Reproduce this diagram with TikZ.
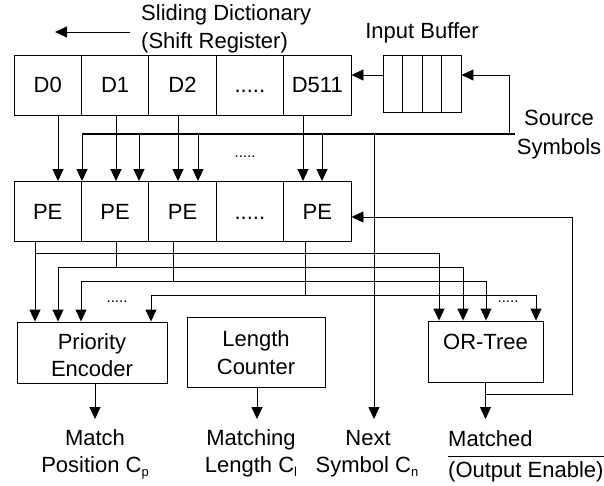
\documentclass[tikz,border=0pt]{standalone}
\usepackage{fontspec}
\setmainfont{Liberation Sans}
\usetikzlibrary{arrows.meta,calc}
\newcommand\subx[1]{\raisebox{-4.5pt}{\fontsize{13}{13}\selectfont #1}}
\begin{document}
\begin{tikzpicture}[x=1pt,y=-1pt,
  every node/.style={font=\fontsize{22}{27}\selectfont},
  cell/.style={draw, line width=0.9pt, minimum width=67.4pt, minimum height=60pt, inner sep=0pt, text height=15.75pt, text depth=0pt},
  bcell/.style={draw, line width=0.9pt, minimum width=19.5pt, minimum height=57pt, inner sep=0pt},
  boxx/.style={draw, line width=0.9pt, inner sep=0pt},
  ln/.style={line width=0.9pt},
  arr/.style={line width=0.9pt, -{Triangle[length=12pt,width=11pt]}},
  darr/.style={line width=0.9pt, {Triangle[length=12pt,width=11pt]}-{Triangle[length=12pt,width=11pt]}},
  bus/.style={line width=2.6pt},
  lbl/.style={inner sep=0pt, anchor=base},
  sdots/.style={inner sep=0pt, anchor=base, font=\fontsize{15}{15}\selectfont}]
\useasboundingbox (0,0) rectangle (604,486);

% dictionary row
\node[cell] (d0) at (47.7,85) {D0};
\node[cell] (d1) at (115.1,85) {D1};
\node[cell] (d2) at (182.5,85) {D2};
\node[cell] (d3) at (249.9,85) {.....};
\node[cell] (d4) at (317.3,85) {D511};

% PE row
\node[cell] (p0) at (47.7,211.5) {PE};
\node[cell] (p1) at (115.1,211.5) {PE};
\node[cell] (p2) at (182.5,211.5) {PE};
\node[cell] (p3) at (249.9,211.5) {.....};
\node[cell] (p4) at (317.3,211.5) {PE};

% input buffer
\node[bcell] (b1) at (392.75,83.5) {};
\node[bcell] (b2) at (412.25,83.5) {};
\node[bcell] (b3) at (431.75,83.5) {};
\node[bcell] (b4) at (451.25,83.5) {};

% lower boxes
\node[boxx, minimum width=150pt, minimum height=61pt] (pe) at (92,352.5) {};
\node[lbl] at (92,349.5) {Priority};
\node[lbl] at (92,376.5) {Encoder};
\node[boxx, minimum width=138pt, minimum height=70pt] (lc) at (256,352) {};
\node[lbl] at (256,346.5) {Length};
\node[lbl] at (256,374) {Counter};
\node[boxx, minimum width=115pt, minimum height=61pt] (ort) at (485.5,351.5) {};
\node[lbl] at (485.5,349.5) {OR-Tree};

% top labels
\node[lbl, anchor=base west] (sd) at (141,21) {Sliding Dictionary};
\node[lbl, anchor=base west] (sr) at (141,49) {(Shift Register)};
\coordinate (shA) at (130,32);
\coordinate (shB) at (55,32);
\draw[arr] (shA) -- (shB);
\node[lbl] (ibl) at (422,38.5) {Input Buffer};
\node[lbl] (ss1) at (559,126) {Source};
\node[lbl] (ss2) at (559,154.5) {Symbols};

% buffer -> D511, source -> buffer
\draw[arr] (b1.west |- 0,75) -- (d4.east |- 0,75);
\coordinate (sin) at (509,134);
\draw[ln] (sin) -- (509,75);
\draw[arr] (509,75) -- (b4.east |- 0,75);

% bus
\coordinate (busL) at (82,134);
\coordinate (busR) at (515,134);
\draw[bus] (busL) -- (busR);

% dictionary feeds
\draw[arr] (d0.south -| 58,0) -- (p0.north -| 58,0);
\draw[arr] (d1.south -| 116,0) -- (p1.north -| 116,0);
\draw[arr] (d2.south -| 178,0) -- (p2.north -| 178,0);
\draw[arr] (d4.south -| 303,0) -- (p4.north -| 303,0);
% bus feeds
\draw[arr] (busL) -- (p0.north -| 82,0);
\draw[arr] (139,134) -- (p1.north -| 139,0);
\draw[arr] (198,134) -- (p2.north -| 198,0);
\draw[arr] (322,134) -- (p4.north -| 322,0);
\node[sdots] at (245,158) {.....};

% next symbol
\draw[arr] (374,134) -- (374,419);

% PE outputs
\draw[arr] (p0.south -| 35,0) -- (pe.north -| 35,0);
\draw[arr] (35,253) -| (ort.north -| 439,0);
\draw[ln] (p1.south -| 116,0) -- (116,267);
\draw[darr] (pe.north -| 58,0) |- (463,267) -- (ort.north -| 463,0);
\draw[ln] (p2.south -| 173,0) -- (173,281);
\draw[darr] (pe.north -| 81,0) |- (486,281) -- (ort.north -| 486,0);
\draw[ln] (p4.south -| 305,0) -- (305,295);
\draw[darr] (pe.north -| 151,0) |- (536,295) -- (ort.north -| 536,0);
\node[sdots] at (117,302) {.....};
\node[sdots] at (508,302) {.....};

% outputs
\draw[arr] (pe.south -| 95,0) -- (95,419);
\draw[arr] (lc.south -| 257,0) -- (257,419);
\draw[arr] (ort.south) -- (ort.south |- 0,419);
\draw[arr] (ort.south |- 0,394) -- (572,394) -- (572,217) -- (p4.east |- 0,217);

% bottom labels
\node[lbl] at (95,445) {Match};
\node[lbl] at (95,472) {Position C\subx{p}};
\node[lbl] at (251,445) {Matching};
\node[lbl] at (251,472) {Length C\subx{l}};
\node[lbl] at (368,445) {Next};
\node[lbl] at (367,472) {Symbol C\subx{n}};
\node[lbl, anchor=base west] at (448,446) {Matched};
\node[lbl, anchor=base west] (oe) at (448,477) {(Output Enable)};
\draw[ln] ([yshift=4pt]oe.north west) -- ([yshift=4pt]oe.north east);
\end{tikzpicture}
\end{document}
